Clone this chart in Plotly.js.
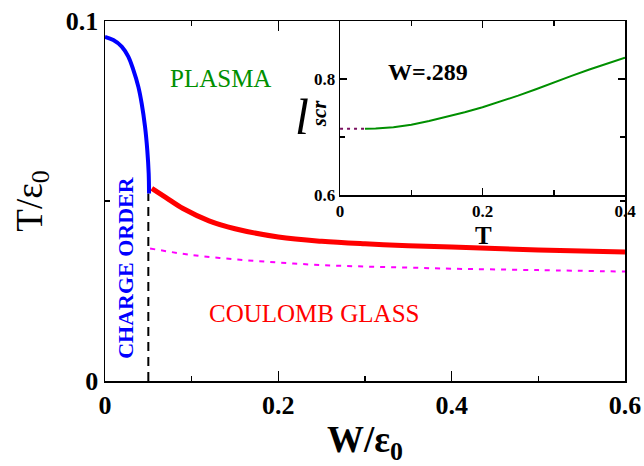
<!DOCTYPE html>
<html>
<head>
<meta charset="utf-8">
<script src="https://cdn.plot.ly/plotly-3.0.1.min.js"></script>
<style>
html,body{margin:0;padding:0;background:#fff;}
#chart{width:644px;height:466px;}
</style>
</head>
<body>
<div id="chart"></div>
<script>
// Main panel: charge-order boundary (blue)
var chargeW = [0, 0.0096, 0.0193, 0.0269, 0.0327, 0.0385, 0.0423, 0.0462, 0.0488, 0.0504, 0.0508];
var chargeT = [0.0956, 0.0947, 0.0929, 0.0901, 0.0864, 0.0817, 0.0771, 0.0706, 0.0641, 0.0577, 0.0521];
// Coulomb glass boundary (red)
var glassW = [0.054, 0.07, 0.09, 0.12, 0.15, 0.2, 0.25, 0.3, 0.35, 0.4, 0.45, 0.5, 0.55, 0.6];
var glassT = [0.0535, 0.051, 0.0479, 0.0445, 0.0423, 0.0400, 0.0388, 0.0381, 0.0376, 0.0372, 0.0368, 0.0364, 0.0361, 0.0358];
// Dotted magenta curve
var dotW = [0.052, 0.1, 0.15, 0.2, 0.25, 0.3, 0.35, 0.4, 0.5, 0.6];
var dotT = [0.0368, 0.0350, 0.0338, 0.0329, 0.0322, 0.0318, 0.0315, 0.0312, 0.0308, 0.0304];
// Vertical dashed line at W = 0.05
var vlineW = [0.05, 0.05];
var vlineT = [0, 0.0521];
// Inset: l_scr vs T at W=.289
var insetT = [0.035, 0.05, 0.075, 0.1, 0.125, 0.15, 0.175, 0.2, 0.225, 0.25, 0.275, 0.3, 0.325, 0.35, 0.375, 0.4];
var insetL = [0.7143, 0.7148, 0.717, 0.7215, 0.728, 0.735, 0.743, 0.7515, 0.761, 0.7715, 0.7825, 0.7945, 0.8055, 0.8165, 0.827, 0.837];
var insetDashT = [0, 0.035];
var insetDashL = [0.7143, 0.7143];

var serif = "Liberation Serif";

var traces = [
  {x: vlineW, y: vlineT, mode: 'lines', line: {color: '#000', width: 2, dash: '9px,6px'}, xaxis: 'x', yaxis: 'y'},
  {x: dotW, y: dotT, mode: 'lines', line: {color: '#ff00ff', width: 2, dash: '5px,6px', shape: 'spline'}, xaxis: 'x', yaxis: 'y'},
  {x: glassW, y: glassT, mode: 'lines', line: {color: '#ff0000', width: 5, shape: 'spline'}, xaxis: 'x', yaxis: 'y'},
  {x: chargeW, y: chargeT, mode: 'lines', line: {color: '#0000ff', width: 4, shape: 'spline'}, xaxis: 'x', yaxis: 'y'},
  {x: insetDashT, y: insetDashL, mode: 'lines', line: {color: '#7a1060', width: 2, dash: '3px,4px'}, xaxis: 'x2', yaxis: 'y2'},
  {x: insetT, y: insetL, mode: 'lines', line: {color: '#008f00', width: 2}, xaxis: 'x2', yaxis: 'y2'}
];

var axisCommon = {
  showline: true, linecolor: '#000', linewidth: 1.5, mirror: 'ticks',
  ticks: 'inside', ticklen: 10, tickwidth: 1.5, tickcolor: '#000',
  showgrid: false, zeroline: false, fixedrange: true
};

function minorTicks(d) {
  return {dtick: d, ticks: 'inside', ticklen: 5, tickwidth: 1.5, tickcolor: '#000', showgrid: false};
}

var layout = {
  width: 644, height: 466,
  margin: {l: 105, r: 19, t: 21, b: 85, pad: 0},
  paper_bgcolor: '#fff', plot_bgcolor: '#fff',
  showlegend: false,
  font: {family: serif, color: '#000'},
  xaxis: Object.assign({}, axisCommon, {
    domain: [0, 1], range: [0, 0.6], dtick: 0.2, tick0: 0, anchor: 'y',
    minor: minorTicks(0.1),
    tickfont: {family: serif, size: 26, color: '#000', weight: 'bold'},
    title: {text: 'W/ε<sub>0</sub>', font: {family: serif, size: 37, color: '#000', weight: 'bold'}, standoff: 8}
  }),
  yaxis: Object.assign({}, axisCommon, {
    domain: [0, 1], range: [0, 0.1], dtick: 0.1, tick0: 0, anchor: 'x',
    minor: minorTicks(0.05),
    tickfont: {family: serif, size: 26, color: '#000', weight: 'bold'},
    title: {text: 'T/ε<sub>0</sub>', font: {family: serif, size: 37, color: '#000'}, standoff: 12}
  }),
  xaxis2: Object.assign({}, axisCommon, {
    domain: [0.452, 1], range: [0, 0.4], dtick: 0.2, tick0: 0, anchor: 'y2',
    ticklen: 7, minor: minorTicks(0.1),
    tickfont: {family: serif, size: 17, color: '#000', weight: 'bold'}
  }),
  yaxis2: Object.assign({}, axisCommon, {
    domain: [0.516, 1], range: [0.6, 0.9], dtick: 0.2, tick0: 0, anchor: 'x2',
    ticklen: 7, minor: minorTicks(0.1),
    tickfont: {family: serif, size: 17, color: '#000', weight: 'bold'}
  }),
  annotations: [
    {x: 0.133, y: 0.0841, xref: 'x', yref: 'y', text: 'PLASMA', showarrow: false,
     font: {family: serif, size: 25, color: '#008f00'}},
    {x: 0.241, y: 0.0187, xref: 'x', yref: 'y', text: 'COULOMB GLASS', showarrow: false,
     font: {family: serif, size: 25, color: '#ff0000'}},
    {x: 0.0242, y: 0.0317, xref: 'x', yref: 'y', text: 'CHARGE ORDER', showarrow: false, textangle: -90,
     font: {family: serif, size: 22, color: '#0000ff', weight: 'bold'}},
    {x: 0.124, y: 0.812, xref: 'x2', yref: 'y2', text: 'W=.289', showarrow: false,
     font: {family: serif, size: 24, color: '#000', weight: 'bold'}},
    // inset axis titles
    {x: 0.727, y: 0.404, xref: 'paper', yref: 'paper', text: 'T', showarrow: false,
     xanchor: 'center', yanchor: 'middle',
     font: {family: serif, size: 25, color: '#000', weight: 'bold'}},
    {x: 0.379, y: 0.733, xref: 'paper', yref: 'paper', text: '<i>l</i>', showarrow: false,
     xanchor: 'center', yanchor: 'middle',
     font: {family: serif, size: 50, color: '#000'}},
    {x: 0.4115, y: 0.744, xref: 'paper', yref: 'paper', text: '<i>scr</i>', showarrow: false,
     xanchor: 'center', yanchor: 'middle', textangle: -90,
     font: {family: serif, size: 21, color: '#000', weight: 'bold'}}
  ]
};

Plotly.newPlot('chart', traces, layout, {displayModeBar: false, staticPlot: true});
</script>
</body>
</html>
